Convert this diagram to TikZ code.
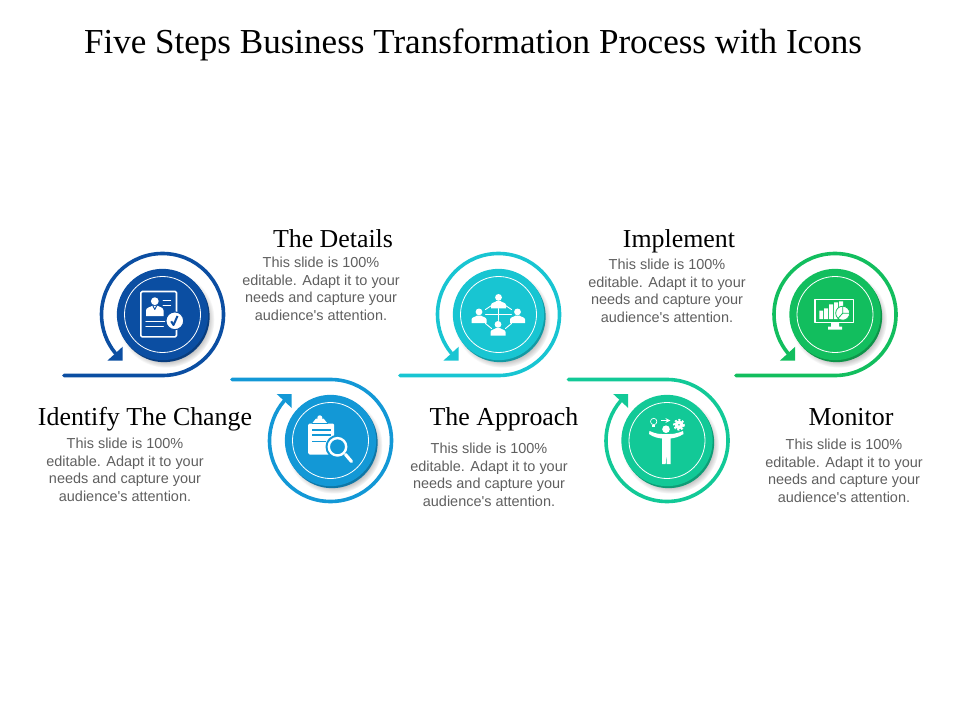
\documentclass[tikz,border=0pt]{standalone}
\usepackage{fontspec}
\setmainfont{Liberation Serif}
\newfontfamily\bodyfont{Liberation Sans}
\usetikzlibrary{shadows}
\definecolor{stepa}{HTML}{0B4EA2}
\definecolor{stepb}{HTML}{1398D6}
\definecolor{stepc}{HTML}{18C5D2}
\definecolor{stepd}{HTML}{12C997}
\definecolor{stepe}{HTML}{12BE5E}
\definecolor{bodygray}{HTML}{5F5F5F}
\tikzset{
  ring/.style={line width=2.7pt,line cap=round},
  disc/.style={circle,fill=#1,minimum size=68.5pt,inner sep=0pt},
  under/.style={circle,fill=#1!78!black,minimum size=68.5pt,inner sep=0pt,
    circular drop shadow={shadow xshift=1.5pt,shadow yshift=-2pt,shadow scale=1.06,opacity=.5}},
  inring/.style={draw=white,line width=.6pt},
  icoline/.style={draw=white,line width=1pt,line cap=round},
  heading/.style={font=\fontsize{19.4}{22}\selectfont,inner sep=0pt,anchor=base},
  bodytxt/.style={font=\bodyfont\fontsize{10.85}{13.1}\selectfont,text=bodygray,align=center,inner sep=0pt},
  person/.pic={
    \fill[white] (0,-4.6) circle (3.4);
    \fill[white] (-7.5,6.5)--(-7.5,3) .. controls (-7.5,0.5) and (-3,0.5) .. (-2,-1)--(2,-1) .. controls (3,0.5) and (7.5,0.5) .. (7.5,3)--(7.5,6.5)--cycle;
  }
}
\newcommand{\bodylines}{This slide is 100\%\\editable. Adapt it to your\\needs and capture your\\audience's attention.}
\begin{document}
\begin{tikzpicture}[x=.75pt,y=-.75pt,line join=round]
\useasboundingbox (0,0) rectangle (960,720);
\node[font=\fontsize{26.3}{30}\selectfont,inner sep=0pt,anchor=base] (title) at (473,53.5) {Five Steps Business Transformation Process with Icons};
%first step
\begin{scope}[shift={(162.5,314.5)}]
  \coordinate (s1) at (-98.5,61);
  \draw[ring,stepa] (s1)--(0,61) arc (90:-219.5:61);
  \fill[stepa] (-39.8,32.2)--(-39.8,46.2)--(-55.2,46.2)--cycle;
  \node[under=stepa] (u1) at (1.5,2) {};
  \node[disc=stepa] (c1) at (0,0) {};
  \draw[inring] (c1.center) circle (38);
  \draw[white,line width=1.2pt,rounded corners=1pt] (-21.7,-23) rectangle (14,22.3);
  \fill[white] (-7.7,-13.3) circle (3.9);
  \fill[white] (-16.5,1.5)--(-16.5,-4) .. controls (-16.5,-7) and (-12,-7.5) .. (-10.5,-8.5)--(-4.5,-8.5) .. controls (-3,-7.5) and (1,-7) .. (1,-4)--(1,1.5)--cycle;
  \draw[stepa,line width=.7pt] (-9.5,-8.5)--(-7.7,-5)--(-5.9,-8.5);
  \draw[icoline] (0.7,-14.3)--(8,-14.3) (0.7,-9.3)--(8,-9.3) (-16.5,6.7)--(2.3,6.7) (-16.5,12)--(0.7,12);
  \draw[fill=white,draw=stepa,line width=.8pt] (12.3,6.3) circle (8.9);
  \draw[stepa,line width=1.5pt] (8.7,6.8)--(11,10.5)--(15,1.5);
\end{scope}
%second step
\begin{scope}[shift={(330.5,440.5)}]
  \coordinate (s2) at (-98.5,-61);
  \draw[ring,stepb] (s2)--(0,-61) arc (-90:220.5:61);
  \fill[stepb] (-38.8,-46.5)--(-38.8,-32.5)--(-53.8,-46.5)--cycle;
  \node[under=stepb] (u2) at (1.5,2) {};
  \node[disc=stepb] (c2) at (0,0) {};
  \draw[inring] (c2.center) circle (38);
  \fill[white,rounded corners=1pt] (-22.3,-17) rectangle (3.7,14);
  \fill[white] (-10.7,-22.7) circle (2.5);
  \fill[white] (-18.5,-17)--(-14.5,-22)--(-7,-22)--(-3,-17)--cycle;
  \draw[stepb,line width=.8pt] (-18.5,-17)--(-3,-17) (-18.5,-10.5)--(0,-10.5) (-18.5,-5.5)--(0,-5.5) (-18.5,1)--(-5,1);
  \draw[fill=stepb,draw=stepb,line width=1.5pt] (7,6.3) circle (11);
  \draw[fill=stepb,draw=white,line width=1.8pt] (7,6.3) circle (8.7);
  \draw[white,line width=2.4pt,line cap=round] (15,14)--(21,21);
\end{scope}
%third step
\begin{scope}[shift={(498.5,314.5)}]
  \coordinate (s3) at (-98.5,61);
  \draw[ring,stepc] (s3)--(0,61) arc (90:-219.5:61);
  \fill[stepc] (-39.8,32.2)--(-39.8,46.2)--(-55.2,46.2)--cycle;
  \node[under=stepc] (u3) at (1.5,2) {};
  \node[disc=stepc] (c3) at (0,0) {};
  \draw[inring] (c3.center) circle (38);
  \draw[icoline,line width=.7pt] (-7,-9)--(-13,-5) (7,-9)--(13,-5) (-13,0)--(13,0) (0,-6)--(0,6) (-13,9)--(-7,14) (13,9)--(7,14);
  \pic at (0,-12.5) {person};
  \pic at (-19.5,2) {person};
  \pic at (19,2) {person};
  \pic at (-.5,14.5) {person};
\end{scope}
%fourth step
\begin{scope}[shift={(667,440.5)}]
  \coordinate (s4) at (-98.5,-61);
  \draw[ring,stepd] (s4)--(0,-61) arc (-90:220.5:61);
  \fill[stepd] (-38.8,-46.5)--(-38.8,-32.5)--(-53.8,-46.5)--cycle;
  \node[under=stepd] (u4) at (1.5,2) {};
  \node[disc=stepd] (c4) at (0,0) {};
  \draw[inring] (c4.center) circle (38);
  \fill[white] (-1,-11.3) circle (3.8);
  \fill[white] (-17.5,-9.5) .. controls (-11,-6.5) and (-7,-6.5) .. (-5,-6.5)--(3,-6.5) .. controls (5,-6.5) and (9,-6.5) .. (16,-9.5)--(16.5,-6.5) .. controls (11,-3) and (7,-2.5) .. (3.5,-2)--(3.5,23.5)--(-.3,23.5)--(-.8,12)--(-1.3,23.5)--(-5,23.5)--(-5,-2) .. controls (-9,-2.5) and (-13,-3) .. (-18,-6.5)--cycle;
  \draw[white,line width=.5pt] (-13.3,-19) circle (3.2);
  \fill[white] (-14.8,-15.3) rectangle (-11.8,-13.5);
  \draw[white,line width=.6pt,-stealth] (-6,-20)--(3.3,-20);
  \draw[white,line width=2.5pt] (12,-15.7) circle (2.7);
  \draw[white,line width=1.4pt,dash pattern=on 1.5pt off 1.3pt] (12,-15.7) circle (5);
\end{scope}
%fifth step
\begin{scope}[shift={(835,314.5)}]
  \coordinate (s5) at (-99,61);
  \draw[ring,stepe] (s5)--(0,61) arc (90:-219.5:61);
  \fill[stepe] (-39.8,32.2)--(-39.8,46.2)--(-55.2,46.2)--cycle;
  \node[under=stepe] (u5) at (1.5,2) {};
  \node[disc=stepe] (c5) at (0,0) {};
  \draw[inring] (c5.center) circle (38);
  \draw[white,line width=.8pt] (-20,-14.7) rectangle (18.3,8);
  \fill[white] (-4,8)--(4,8)--(4,12)--(7,12)--(7,15)--(-7,15)--(-7,12)--(-4,12)--cycle;
  \fill[white] (-15.7,-4) rectangle (-12,4.5) (-11,-6) rectangle (-7,4.5) (-6,-10) rectangle (-2,4.5) (-1,-12) rectangle (3,4.5) (4,-13) rectangle (8,-6);
  \draw[fill=white,draw=stepe,line width=.6pt] (7.7,-1.3) circle (7);
  \draw[stepe,line width=.6pt] (7.7,-1.3)--(7.7,-8.3) (7.7,-1.3)--(14.5,-1.3) (7.7,-1.3)--(3,4);
\end{scope}
\node[heading] (h1) at (145,425) {Identify The Change};
\node[heading] (h2) at (333,248) {The Details};
\node[heading] (h3) at (504,425) {The Approach};
\node[heading] (h4) at (679,248) {Implement};
\node[heading] (h5) at (851,425) {Monitor};
\node[bodytxt] (t1) at (125,470) {\bodylines};
\node[bodytxt] (t2) at (321,289) {\bodylines};
\node[bodytxt] (t3) at (489,475) {\bodylines};
\node[bodytxt] (t4) at (667,291) {\bodylines};
\node[bodytxt] (t5) at (844,471) {\bodylines};
\end{tikzpicture}
\end{document}
